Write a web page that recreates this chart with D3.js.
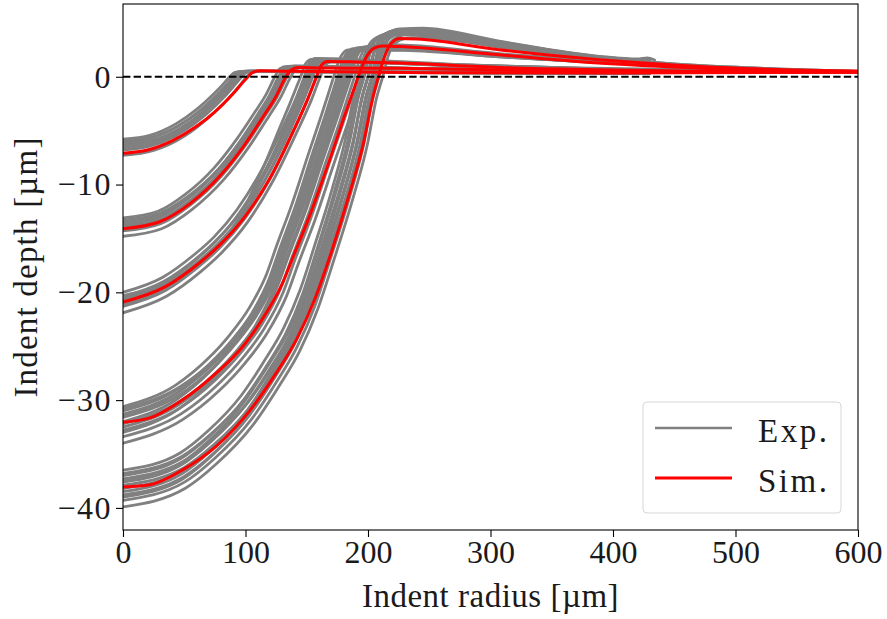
<!DOCTYPE html>
<html>
<head>
<meta charset="utf-8">
<script src="https://cdn.jsdelivr.net/npm/d3@7"></script>
<style>
  html, body { margin: 0; padding: 0; background: #fff; }
  svg { display: block; font-family: "Liberation Serif", "DejaVu Serif", serif; }
</style>
</head>
<body>
<div id="chart"></div>
<script>
// ticks
const xTicks = [0, 100, 200, 300, 400, 500, 600];
const yTicks = [0, -10, -20, -30, -40];

// simulated profiles, [radius µm, depth µm]
const sim1 = [[0,-7.1],[20,-6.8],[40,-5.95],[60,-4.6],[75,-3.25],[90,-1.55],[100,-0.25],[106,0.4],[112,0.55],[140,0.5],[250,0.38],[400,0.36],[600,0.42]];
const sim2 = [[0,-14.1],[30,-13.45],[55,-11.75],[80,-9.1],[100,-6.2],[115,-3.6],[125,-1.8],[133,0],[137,0.6],[143,0.85],[160,0.82],[226,0.78],[307,0.62],[389,0.5],[600,0.45]];
const sim3 = [[0,-20.9],[35,-19.45],[62,-17.3],[79,-15.6],[100,-12.9],[120,-9.4],[140,-4.8],[151,-2.0],[158,0],[162,1.1],[167,1.42],[190,1.38],[226,1.27],[307,0.87],[389,0.65],[471,0.5],[600,0.45]];
const sim4 = [[0,-32.05],[22,-31.65],[49,-29.95],[76,-27.5],[98,-25.0],[112,-22.8],[130,-19.2],[140,-16.4],[153,-12.7],[169,-7.6],[180,-3.9],[188,-1.3],[193,0.3],[199,1.9],[205,2.65],[212,2.85],[226,2.8],[307,2.04],[389,1.27],[471,0.8],[600,0.5]];
const sim5 = [[0,-38.05],[22,-37.85],[49,-36.45],[76,-34.3],[104,-30.9],[125,-27.5],[142,-24.3],[157,-20.5],[170,-16.3],[185,-10.8],[196,-6.3],[204,-1.9],[209,0.2],[214,2.0],[219,3.1],[226,3.55],[240,3.5],[307,2.5],[389,1.58],[471,0.96],[600,0.5]];

// experimental profiles, one group per indentation load
const exp1 = [
  [[0,-5.8],[21.8,-5.44],[43.5,-4.35],[60.9,-2.96],[74,-1.61],[82.7,-0.57],[87,0],[91,0.38],[97,0.5],[150,0.45],[300,0.35],[430,0.3]],
  [[0,-6.1],[22.5,-5.72],[45,-4.58],[63,-3.11],[76.5,-1.69],[85.5,-0.59],[90,0],[94,0.4],[100,0.52],[200,0.42],[430,0.32]],
  [[0,-6.45],[23,-6.05],[46.5,-4.84],[65,-3.29],[79,-1.79],[88,-0.63],[93,0],[97,0.42],[103,0.55],[250,0.42],[600,0.38]],
  [[0,-6.8],[24,-6.38],[48.5,-5.1],[68,-3.47],[82.5,-1.89],[92,-0.66],[97,0],[101,0.4],[107,0.52],[250,0.4],[430,0.33]],
  [[0,-7.3],[25,-6.84],[50.5,-5.48],[70.5,-3.72],[86,-2.03],[96,-0.71],[101,0],[105,0.4],[111,0.5],[300,0.38],[430,0.33]],
  [[0,-6.0],[23,-5.63],[46,-4.5],[64.5,-3.06],[78,-1.67],[87.5,-0.59],[92,0],[96,0.38],[102,0.48],[300,0.35],[430,0.3]],
  [[0,-6.3],[23.8,-5.91],[47.5,-4.73],[66.5,-3.21],[80.8,-1.75],[90.3,-0.61],[95,0],[99,0.4],[105,0.5],[250,0.4],[430,0.32]],
  [[0,-6.65],[23.5,-6.23],[47,-4.99],[65.8,-3.39],[79.9,-1.85],[89.3,-0.65],[94,0],[98,0.42],[104,0.52],[300,0.38],[430,0.32]]
];
const exp2 = [
  [[0,-13.1],[28.5,-12.48],[50.8,-10.91],[74.4,-8.45],[93,-5.76],[107.3,-3.34],[116.6,-1.68],[124,0],[128,0.75],[134,0.95],[200,0.85],[300,0.65],[430,0.52]],
  [[0,-13.5],[29.4,-12.87],[52.5,-11.25],[76.8,-8.71],[96,-5.94],[110.7,-3.44],[120.3,-1.73],[128,0],[132,0.75],[138,0.95],[220,0.8],[430,0.5]],
  [[0,-13.9],[30.1,-13.25],[53.7,-11.58],[78.6,-8.97],[98.3,-6.12],[113.3,-3.54],[123.1,-1.78],[131,0],[135,0.72],[141,0.9],[250,0.72],[600,0.45]],
  [[0,-14.3],[30.8,-13.63],[54.9,-11.91],[80.4,-9.22],[100.5,-6.29],[115.9,-3.65],[126,-1.83],[134,0],[138,0.72],[144,0.92],[250,0.75],[430,0.55]],
  [[0,-14.8],[31.5,-14.1],[56.2,-12.33],[82.2,-9.55],[102.8,-6.51],[118.5,-3.77],[128.8,-1.89],[137,0],[141,0.7],[147,0.88],[300,0.65],[430,0.5]],
  [[0,-13.3],[29.9,-12.67],[53.3,-11.08],[78,-8.58],[97.5,-5.85],[112.5,-3.39],[122.2,-1.7],[130,0],[134,0.78],[140,1.0],[300,0.62],[430,0.5]],
  [[0,-13.7],[29.2,-13.06],[52.1,-11.41],[76.2,-8.84],[95.3,-6.03],[109.9,-3.49],[119.4,-1.75],[127,0],[131,0.78],[137,0.98],[250,0.75],[430,0.52]],
  [[0,-14.1],[29.7,-13.44],[52.9,-11.75],[77.4,-9.09],[96.8,-6.2],[111.6,-3.6],[121.3,-1.8],[129,0],[133,0.75],[139,0.95],[250,0.72],[430,0.5]]
];
const exp3 = [
  [[0,-20.0],[32.5,-18.6],[57.5,-16.56],[74,-14.9],[93,-12.34],[111.5,-9.0],[130,-4.78],[141.5,-1.92],[148,0],[152,1.25],[157,1.7],[200,1.55],[300,1.0],[430,0.62]],
  [[0,-20.4],[33.5,-18.97],[59.5,-16.89],[76,-15.2],[96,-12.59],[115,-9.18],[134,-4.88],[145.5,-1.96],[152,0],[156,1.2],[161,1.6],[250,1.2],[430,0.6]],
  [[0,-20.8],[34,-19.34],[60.5,-17.22],[77.5,-15.5],[97.5,-12.83],[117,-9.36],[136.5,-4.97],[148,-2.0],[155,0],[159,1.15],[164,1.5],[250,1.15],[600,0.45]],
  [[0,-21.3],[35,-19.81],[61.5,-17.64],[79,-15.87],[99.5,-13.14],[119.5,-9.59],[139,-5.09],[151,-2.04],[158,0],[162,1.15],[167,1.45],[300,0.95],[430,0.6]],
  [[0,-21.9],[35.5,-20.37],[63,-18.13],[80.5,-16.32],[101.5,-13.51],[121.5,-9.86],[141.5,-5.23],[154,-2.1],[161,0],[165,1.1],[170,1.35],[300,0.9],[430,0.58]],
  [[0,-20.6],[33,-19.16],[58.5,-17.06],[75,-15.35],[94.5,-12.71],[113.3,-9.27],[132,-4.92],[143.4,-1.98],[150,0],[154,1.2],[159,1.6],[250,1.2],[430,0.6]],
  [[0,-21.1],[33.9,-19.62],[60.1,-17.47],[77,-15.72],[97,-13.02],[116.3,-9.5],[135.5,-5.04],[147.2,-2.03],[154,0],[158,1.2],[163,1.55],[300,0.95],[430,0.6]],
  [[0,-20.3],[37.5,-18.98],[60,-17.4],[76.5,-15.83],[90,-14.21],[102,-12.18],[109.5,-10.35],[120,-7.92],[132,-4.75],[141,-2.44],[147,-0.81],[150,0],[154,1.2],[159,1.6],[250,1.15],[430,0.6]],
  [[0,-20.6],[36.3,-19.26],[58,-17.65],[74,-16.07],[87,-14.42],[98.6,-12.36],[105.9,-10.51],[116,-8.03],[127.6,-4.82],[136.3,-2.47],[142.1,-0.82],[145,0],[149,1.2],[154,1.6],[250,1.1],[430,0.6]]
];
const exp4 = [
  [[0,-30.6],[43,-28.61],[68.8,-26.22],[87.7,-23.87],[103.2,-21.42],[117,-18.36],[125.6,-15.61],[137.6,-11.93],[151.4,-7.16],[161.7,-3.67],[168.6,-1.22],[172,0],[177,1.7],[184,2.5],[230,2.45],[307,1.85],[430,1.1]],
  [[0,-31.0],[44.5,-28.99],[71.2,-26.57],[90.8,-24.18],[106.8,-21.7],[121,-18.6],[129.9,-15.81],[142.4,-12.09],[156.6,-7.25],[167.3,-3.72],[174.4,-1.24],[178,0],[183,1.8],[190,2.6],[230,2.55],[307,1.9],[389,1.3],[600,0.45]],
  [[0,-31.6],[45.5,-29.55],[72.8,-27.08],[92.8,-24.65],[109.2,-22.12],[123.8,-18.96],[132.9,-16.12],[145.6,-12.32],[160.2,-7.39],[171.1,-3.79],[178.4,-1.26],[182,0],[187,1.8],[194,2.7],[230,2.65],[307,1.95],[430,1.15]],
  [[0,-32.2],[46.5,-30.11],[74.4,-27.6],[94.9,-25.12],[111.6,-22.54],[126.5,-19.32],[135.8,-16.42],[148.8,-12.56],[163.7,-7.53],[174.8,-3.86],[182.3,-1.29],[186,0],[191,1.9],[198,2.8],[230,2.75],[307,2.0],[430,1.2]],
  [[0,-32.8],[47.3,-30.67],[75.6,-28.11],[96.4,-25.58],[113.4,-22.96],[128.5,-19.68],[138,-16.73],[151.2,-12.79],[166.3,-7.68],[177.7,-3.94],[185.2,-1.31],[189,0],[194,1.9],[201,2.85],[230,2.8],[307,2.05],[389,1.35],[600,0.48]],
  [[0,-33.4],[48,-31.23],[76.8,-28.62],[97.9,-26.05],[115.2,-23.38],[130.6,-20.04],[140.2,-17.03],[153.6,-13.03],[169,-7.82],[180.5,-4.01],[188.2,-1.34],[192,0],[197,2.0],[204,2.9],[230,2.85],[307,2.1],[430,1.2]],
  [[0,-34.0],[49,-31.79],[78.4,-29.14],[100,-26.52],[117.6,-23.8],[133.3,-20.4],[143.1,-17.34],[156.8,-13.26],[172.5,-7.96],[184.2,-4.08],[192.1,-1.36],[196,0],[201,2.0],[208,3.0],[235,2.9],[307,2.15],[430,1.25]],
  [[0,-30.8],[46,-28.8],[73.6,-26.4],[93.8,-24.02],[110.4,-21.56],[125.1,-18.48],[134.3,-15.71],[147.2,-12.01],[161.9,-7.21],[173,-3.7],[180.3,-1.23],[184,0],[189,1.7],[196,2.5],[230,2.5],[307,1.9],[430,1.15]],
  [[0,-31.3],[45,-29.27],[72,-26.82],[91.8,-24.41],[108,-21.91],[122.4,-18.78],[131.4,-15.96],[144,-12.21],[158.4,-7.32],[169.2,-3.76],[176.4,-1.25],[180,0],[185,1.8],[192,2.6],[230,2.6],[307,1.9],[430,1.15]],
  [[0,-32.0],[44,-29.92],[70.4,-27.42],[89.8,-24.96],[105.6,-22.4],[119.7,-19.2],[128.5,-16.32],[140.8,-12.48],[154.9,-7.49],[165.4,-3.84],[172.5,-1.28],[176,0],[181,1.8],[188,2.6],[230,2.6],[307,1.9],[430,1.1]],
  [[0,-32.5],[46,-30.39],[73.6,-27.85],[93.8,-25.35],[110.4,-22.75],[125.1,-19.5],[134.3,-16.58],[147.2,-12.68],[161.9,-7.61],[173,-3.9],[180.3,-1.3],[184,0],[189,1.9],[196,2.75],[230,2.7],[307,2.0],[430,1.2]],
  [[0,-33.0],[45,-30.86],[72,-28.28],[91.8,-25.74],[108,-23.1],[122.4,-19.8],[131.4,-16.83],[144,-12.87],[158.4,-7.72],[169.2,-3.96],[176.4,-1.32],[180,0],[185,1.9],[192,2.7],[230,2.7],[307,2.0],[430,1.2]],
  [[0,-31.4],[43.8,-29.36],[70,-26.91],[89.3,-24.49],[105,-21.98],[119,-18.84],[127.8,-16.01],[140,-12.25],[154,-7.35],[164.5,-3.77],[171.5,-1.26],[175,0],[180,1.7],[187,2.5],[230,2.5],[307,1.85],[430,1.1]]
];
const exp5 = [
  [[0,-36.5],[46.3,-34.93],[69.5,-32.85],[96.5,-29.57],[115.8,-26.28],[131.2,-23.29],[144.8,-19.71],[156.3,-15.7],[170.8,-10.37],[181.4,-5.84],[188.4,-1.83],[193,0],[198,2.2],[204,3.4],[215,3.9],[240,3.85],[307,2.8],[389,1.65],[430,1.35]],
  [[0,-37.0],[47.3,-35.41],[70.9,-33.3],[98.5,-29.97],[118.2,-26.64],[134,-23.61],[147.8,-19.98],[159.6,-15.91],[174.3,-10.51],[185.2,-5.92],[192.3,-1.85],[197,0],[202,2.3],[208,3.6],[220,4.1],[245,4.05],[307,3.0],[389,1.75],[430,1.45]],
  [[0,-37.6],[48,-35.98],[72,-33.84],[100,-30.46],[120,-27.07],[136,-23.99],[150,-20.3],[162,-16.17],[177,-10.68],[188,-6.02],[195.2,-1.88],[200,0],[205,2.3],[211,3.7],[223,4.3],[245,4.3],[307,3.2],[389,1.85],[430,1.5]],
  [[0,-38.2],[48.7,-36.56],[73.1,-34.38],[101.5,-30.94],[121.8,-27.5],[138,-24.37],[152.3,-20.63],[164.4,-16.43],[179.7,-10.85],[190.8,-6.11],[198.1,-1.91],[203,0],[208,2.4],[214,3.8],[226,4.45],[245,4.5],[307,3.3],[389,1.9],[420,1.65],[428,1.75],[434,1.55]],
  [[0,-38.8],[49.4,-37.13],[74.2,-34.92],[103,-31.43],[123.6,-27.94],[140.1,-24.75],[154.5,-20.95],[166.9,-16.68],[182.3,-11.02],[193.6,-6.21],[201.1,-1.94],[206,0],[211,2.3],[217,3.6],[228,4.2],[250,4.15],[307,3.1],[389,1.8],[600,0.5]],
  [[0,-39.3],[50.2,-37.61],[75.2,-35.37],[104.5,-31.83],[125.4,-28.3],[142.1,-25.07],[156.8,-21.22],[169.3,-16.9],[185,-11.16],[196.5,-6.29],[204,-1.97],[209,0],[214,2.2],[220,3.4],[232,3.9],[255,3.8],[307,2.9],[389,1.7],[430,1.4]],
  [[0,-39.9],[50.9,-38.18],[76.3,-35.91],[106,-32.32],[127.2,-28.73],[144.2,-25.46],[159,-21.55],[171.7,-17.16],[187.6,-11.33],[199.3,-6.38],[206.9,-2.0],[212,0],[217,2.1],[223,3.2],[235,3.6],[260,3.5],[307,2.75],[389,1.6],[430,1.3]],
  [[0,-37.3],[49,-35.7],[73.4,-33.57],[102,-30.21],[122.4,-26.86],[138.7,-23.8],[153,-20.14],[165.2,-16.04],[180.5,-10.59],[191.8,-5.97],[199.1,-1.87],[204,0],[209,2.3],[215,3.7],[227,4.35],[245,4.35],[307,3.25],[389,1.85],[430,1.5]],
  [[0,-36.8],[48,-35.22],[72,-33.12],[100,-29.81],[120,-26.5],[136,-23.48],[150,-19.87],[162,-15.82],[177,-10.45],[188,-5.89],[195.2,-1.84],[200,0],[205,2.3],[211,3.7],[223,4.3],[245,4.25],[307,3.15],[389,1.8],[430,1.5]],
  [[0,-37.5],[46.8,-35.89],[70.2,-33.75],[97.5,-30.38],[117,-27.0],[132.6,-23.93],[146.3,-20.25],[158,-16.13],[172.6,-10.65],[183.3,-6.0],[190.3,-1.88],[195,0],[200,2.2],[206,3.5],[217,4.0],[242,3.95],[307,2.9],[389,1.7],[430,1.4]],
  [[0,-38.5],[48,-36.84],[72,-34.65],[100,-31.19],[120,-27.72],[136,-24.56],[150,-20.79],[162,-16.56],[177,-10.93],[188,-6.16],[195.2,-1.93],[200,0],[205,2.3],[211,3.7],[223,4.25],[245,4.2],[307,3.1],[389,1.8],[600,0.5]],
  [[0,-39.0],[48.7,-37.32],[73.1,-35.1],[101.5,-31.59],[121.8,-28.08],[138,-24.88],[152.3,-21.06],[164.4,-16.77],[179.7,-11.08],[190.8,-6.24],[198.1,-1.95],[203,0],[208,2.3],[214,3.6],[226,4.2],[248,4.15],[307,3.05],[389,1.75],[430,1.45]],
  [[0,-37.9],[49.7,-36.27],[74.5,-34.11],[103.5,-30.7],[124.2,-27.29],[140.8,-24.18],[155.3,-20.47],[167.7,-16.3],[183.2,-10.76],[194.6,-6.06],[202,-1.9],[207,0],[212,2.3],[218,3.6],[230,4.1],[250,4.05],[307,3.0],[389,1.75],[430,1.45]]
];

const simCurves = [sim1, sim2, sim3, sim4, sim5];
const expCurves = [...exp1, ...exp2, ...exp3, ...exp4, ...exp5];

const W = 887, H = 619;
const M = {left: 123, right: 29, top: 4, bottom: 89};
const FS_TICK = 32, FS_LABEL = 33;
const INK = '#1a1a1a';

const svg = d3.select('#chart').append('svg').attr('width', W).attr('height', H);

const x = d3.scaleLinear().domain([0, 600]).range([M.left, W - M.right]);
const y = d3.scaleLinear().domain([-42.05, 6.75]).range([H - M.bottom, M.top]);

svg.append('clipPath').attr('id', 'plot')
  .append('rect').attr('x', M.left).attr('y', M.top)
  .attr('width', W - M.left - M.right).attr('height', H - M.top - M.bottom);

const line = d3.line().x(d => x(d[0])).y(d => y(d[1])).curve(d3.curveMonotoneX);
const g = svg.append('g').attr('clip-path', 'url(#plot)');

g.selectAll('path.exp').data(expCurves).join('path')
  .attr('class', 'exp')
  .attr('d', line)
  .attr('fill', 'none')
  .attr('stroke', '#808080')
  .attr('stroke-width', 2.8)
  .attr('stroke-linejoin', 'round').attr('stroke-linecap', 'round');

g.selectAll('path.sim').data(simCurves).join('path')
  .attr('class', 'sim')
  .attr('d', line)
  .attr('fill', 'none')
  .attr('stroke', '#ff0000')
  .attr('stroke-width', 3);

// zero reference
g.append('line')
  .attr('x1', x(0)).attr('x2', x(600)).attr('y1', y(0)).attr('y2', y(0))
  .attr('stroke', '#000').attr('stroke-width', 2).attr('stroke-dasharray', '7.4 3.2');

const fmt = d => d < 0 ? '\u2212' + Math.abs(d) : String(d);

const xAxis = svg.append('g').attr('transform', `translate(0,${H - M.bottom})`)
  .call(d3.axisBottom(x).tickValues(xTicks).tickFormat(fmt).tickSize(7).tickPadding(3));
const yAxis = svg.append('g').attr('transform', `translate(${M.left},0)`)
  .call(d3.axisLeft(y).tickValues(yTicks).tickFormat(fmt).tickSize(7).tickPadding(4));

[xAxis, yAxis].forEach(a => {
  a.select('.domain').remove();
  a.selectAll('line').attr('stroke', '#000').attr('stroke-width', 1.1);
  a.selectAll('text').attr('font-size', FS_TICK).attr('fill', INK)
    .attr('font-family', '"Liberation Serif", serif');
});
yAxis.selectAll('text').attr('letter-spacing', 1.5);

svg.append('rect')
  .attr('x', M.left).attr('y', M.top)
  .attr('width', W - M.left - M.right).attr('height', H - M.top - M.bottom)
  .attr('fill', 'none').attr('stroke', '#000').attr('stroke-width', 1.1);

svg.append('text')
  .attr('x', (M.left + W - M.right) / 2).attr('y', 607)
  .attr('text-anchor', 'middle').attr('font-size', FS_LABEL).attr('fill', INK)
  .attr('letter-spacing', 0.5)
  .text('Indent radius [µm]');

svg.append('text')
  .attr('transform', `translate(37,${(M.top + H - M.bottom) / 2}) rotate(-90)`)
  .attr('text-anchor', 'middle').attr('font-size', FS_LABEL).attr('fill', INK)
  .attr('letter-spacing', 1.2)
  .text('Indent depth [µm]');

// legend
const lg = svg.append('g');
lg.append('rect').attr('x', 643).attr('y', 402).attr('width', 198).attr('height', 111)
  .attr('rx', 4).attr('fill', 'rgba(255,255,255,0.8)').attr('stroke', '#d6d6d6').attr('stroke-width', 1);
const legendItems = [['Exp.', '#808080', 2.6], ['Sim.', '#ff0000', 3]];
legendItems.forEach(([label, color, w], i) => {
  const yy = 428 + i * 50;
  lg.append('line').attr('x1', 655).attr('x2', 732).attr('y1', yy).attr('y2', yy)
    .attr('stroke', color).attr('stroke-width', w);
  lg.append('text').attr('x', 758).attr('y', yy + 14)
    .attr('font-size', FS_LABEL).attr('fill', INK).attr('letter-spacing', 2.5).text(label);
});
</script>
</body>
</html>
